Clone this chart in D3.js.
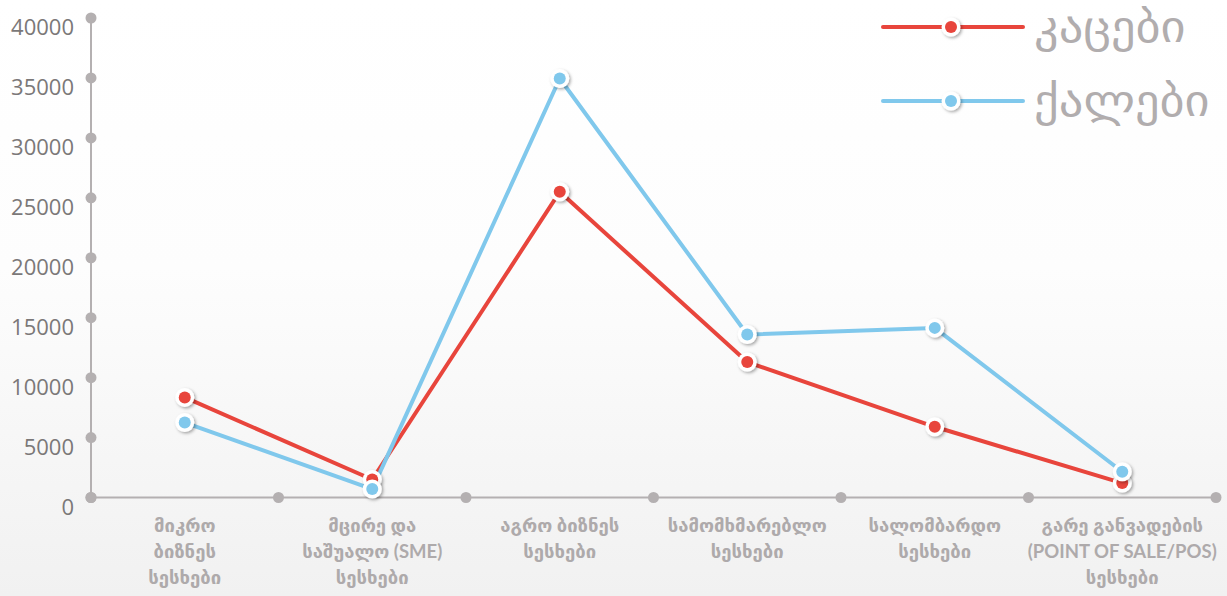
<!DOCTYPE html>
<html>
<head>
<meta charset="utf-8">
<script src="https://cdn.jsdelivr.net/npm/d3@7/dist/d3.min.js"></script>
<style>
  html, body { margin: 0; padding: 0; }
  body { width: 1227px; height: 596px; overflow: hidden; }
  svg { display: block; }
</style>
</head>
<body>
<svg id="chart" width="1227" height="596"></svg>
<script>
// Loan counts by product type, split by borrower gender
const categories = [
  ["მიკრო", "ბიზნეს", "სესხები"],
  ["მცირე და", "საშუალო (SME)", "სესხები"],
  ["აგრო ბიზნეს", "სესხები"],
  ["სამომხმარებლო", "სესხები"],
  ["სალომბარდო", "სესხები"],
  ["გარე განვადების", "(POINT OF SALE/POS)", "სესხები"]
];
const seriesNames = ["კაცები", "ქალები"];
const men   = [8350, 1500, 25500, 11300, 5900, 1200];
const women = [6250, 700, 34950, 13600, 14150, 2150];
const yTicks = [0, 5000, 10000, 15000, 20000, 25000, 30000, 35000, 40000];
const colors = ["#e8453c", "#80c8ec"];

const svg = d3.select("#chart");
const W = 1227, H = 596;
const plotLeft = 91, plotRight = 1216, plotTop = 18, plotBottom = 497.5;

const defs = svg.append("defs");
const bg = defs.append("linearGradient").attr("id", "bg")
  .attr("x1", 0).attr("y1", 0).attr("x2", 0).attr("y2", 1);
bg.append("stop").attr("offset", "0%").attr("stop-color", "#ffffff");
bg.append("stop").attr("offset", "45%").attr("stop-color", "#fdfdfd");
bg.append("stop").attr("offset", "100%").attr("stop-color", "#f1f1f1");

const shadow = defs.append("filter").attr("id", "shadow")
  .attr("x", "-60%").attr("y", "-60%").attr("width", "220%").attr("height", "220%");
shadow.append("feDropShadow").attr("dx", 1.5).attr("dy", 1.5)
  .attr("stdDeviation", 1.6).attr("flood-color", "#000").attr("flood-opacity", 0.35);

svg.append("rect").attr("width", W).attr("height", H).attr("fill", "url(#bg)");

const x = d3.scaleBand().domain(d3.range(categories.length)).range([plotLeft, plotRight]).padding(0);
const y = d3.scaleLinear().domain([0, 40000]).range([plotBottom, plotTop]);
const cx = i => x(i) + x.bandwidth() / 2;

const axisColor = "#b4b0b1";

// axis lines with round tick markers
svg.append("line").attr("x1", plotLeft).attr("x2", plotLeft).attr("y1", y(0)).attr("y2", y(40000))
  .attr("stroke", axisColor).attr("stroke-width", 2);
svg.append("line").attr("x1", plotLeft).attr("x2", plotRight).attr("y1", y(0)).attr("y2", y(0))
  .attr("stroke", axisColor).attr("stroke-width", 2);

svg.append("g").selectAll("circle").data(yTicks).join("circle")
  .attr("cx", plotLeft).attr("cy", d => y(d)).attr("r", 5.5).attr("fill", axisColor);

const xBounds = d3.range(categories.length + 1).map(i => i < categories.length ? x(i) : plotRight);
svg.append("g").selectAll("circle").data(xBounds).join("circle")
  .attr("cx", d => d).attr("cy", y(0)).attr("r", 5.5).attr("fill", axisColor);

svg.append("g").selectAll("text").data(yTicks).join("text")
  .attr("x", 74).attr("y", d => y(d) + 17)
  .attr("text-anchor", "end")
  .attr("font-family", "'Open Sans', sans-serif")
  .attr("font-size", 22)
  .attr("fill", "#7b7878")
  .text(d => d);

// category labels
const catG = svg.append("g");
categories.forEach((lines, i) => {
  const t = catG.append("text")
    .attr("x", cx(i)).attr("y", 532)
    .attr("text-anchor", "middle")
    .attr("font-family", "Lato, 'DejaVu Sans', sans-serif")
    .attr("font-size", 18.5)
    .attr("font-weight", "bold")
    .attr("fill", "#aeaaab");
  lines.forEach((ln, k) => {
    t.append("tspan").attr("x", cx(i)).attr("dy", k === 0 ? 0 : 26).text(ln);
  });
});

// series lines and markers
const data = [men, women];
const line = d3.line().x((d, i) => cx(i)).y(d => y(d));

data.forEach((vals, s) => {
  svg.append("path").datum(vals).attr("d", line)
    .attr("fill", "none").attr("stroke", colors[s]).attr("stroke-width", 4)
    .attr("stroke-linejoin", "round");
});
data.forEach((vals, s) => {
  const g = svg.append("g");
  g.selectAll("circle.o").data(vals).join("circle").attr("class", "o")
    .attr("cx", (d, i) => cx(i)).attr("cy", d => y(d)).attr("r", 9.5)
    .attr("fill", "#ffffff").attr("filter", "url(#shadow)");
  g.selectAll("circle.i").data(vals).join("circle").attr("class", "i")
    .attr("cx", (d, i) => cx(i)).attr("cy", d => y(d)).attr("r", 6)
    .attr("fill", colors[s]);
});

// legend
const legend = svg.append("g");
seriesNames.forEach((name, s) => {
  const ly = 27 + s * 74;
  legend.append("line").attr("x1", 883).attr("x2", 1023).attr("y1", ly).attr("y2", ly)
    .attr("stroke", colors[s]).attr("stroke-width", 4).attr("stroke-linecap", "round");
  legend.append("circle").attr("cx", 951).attr("cy", ly).attr("r", 9.5)
    .attr("fill", "#fff").attr("filter", "url(#shadow)");
  legend.append("circle").attr("cx", 951).attr("cy", ly).attr("r", 6).attr("fill", colors[s]);
  legend.append("text")
    .attr("transform", `translate(1034,${ly + 15}) scale(1.1,1)`)
    .attr("font-family", "'DejaVu Sans', sans-serif")
    .attr("font-size", 44)
    .attr("fill", "#b1adae")
    .text(name);
});
</script>
</body>
</html>
